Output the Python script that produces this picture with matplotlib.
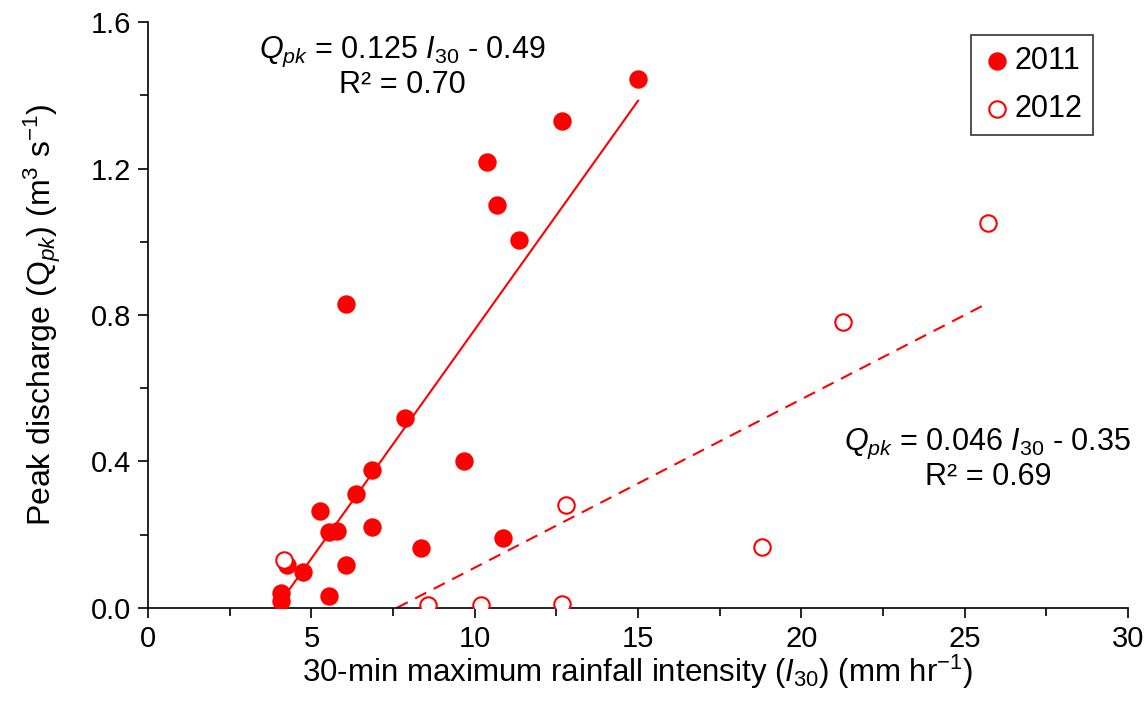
import numpy as np
import matplotlib
matplotlib.use("Agg")
import matplotlib.pyplot as plt
from matplotlib.ticker import MultipleLocator, FormatStrFormatter

plt.rcParams['font.family'] = ['Liberation Sans', 'DejaVu Sans']
plt.rcParams['mathtext.fontset'] = 'custom'
plt.rcParams['mathtext.rm'] = 'Liberation Sans'
plt.rcParams['mathtext.it'] = 'Liberation Sans:italic'
plt.rcParams['mathtext.bf'] = 'Liberation Sans:bold'

# 2011 events
i30_2011 = [15.0, 12.67, 10.38, 10.68, 11.36, 6.06, 7.87, 9.67, 6.86, 6.37, 5.26,
            5.79, 5.54, 6.86, 8.36, 10.87, 6.06, 4.25, 4.74, 5.54, 4.07, 4.07]
qpk_2011 = [1.445, 1.330, 1.218, 1.100, 1.005, 0.830, 0.519, 0.401, 0.377, 0.311, 0.265,
            0.210, 0.207, 0.221, 0.164, 0.191, 0.117, 0.117, 0.098, 0.033, 0.041, 0.019]

# 2012 events
i30_2012 = [25.71, 21.27, 12.79, 18.79, 4.16, 8.57, 10.19, 12.67]
qpk_2012 = [1.051, 0.781, 0.281, 0.167, 0.131, 0.008, 0.008, 0.011]

# trend line coefficients (as printed on the chart)
fit_2011 = (0.125, -0.49)
fit_2012 = (0.046, -0.35)

red = '#ff0000'

fig = plt.figure(figsize=(11.48, 7.10), dpi=100)
ax = fig.add_axes([0.129, 0.1437, 0.8536, 0.8253])

xs = np.array([min(i30_2011), max(i30_2011)])
ax.plot(xs, fit_2011[0] * xs + fit_2011[1], color=red, lw=1.5, zorder=2)
xs2 = np.array([-fit_2012[1] / fit_2012[0], max(i30_2012)])
ax.plot(xs2, fit_2012[0] * xs2 + fit_2012[1], color=red, lw=1.5,
        dashes=(6, 4), zorder=2)

ax.scatter(i30_2011, qpk_2011, s=150, color=red, edgecolors=red, zorder=3, label='2011')
ax.scatter(i30_2012, qpk_2012, s=140, facecolors='white', edgecolors=red,
           linewidths=1.5, zorder=3, label='2012')

ax.set_xlim(0, 30)
ax.set_ylim(0, 1.6)
ax.xaxis.set_major_locator(MultipleLocator(5))
ax.xaxis.set_minor_locator(MultipleLocator(2.5))
ax.yaxis.set_major_locator(MultipleLocator(0.4))
ax.yaxis.set_minor_locator(MultipleLocator(0.2))
ax.yaxis.set_major_formatter(FormatStrFormatter('%.1f'))
ax.tick_params(which='both', direction='out', labelsize=21, width=1.2, color='black')
ax.tick_params(which='major', length=7, pad=5)
ax.tick_params(which='minor', length=6)

for s in ['top', 'right']:
    ax.spines[s].set_visible(False)
for s in ['left', 'bottom']:
    ax.spines[s].set_linewidth(1.2)

ax.set_xlabel('30-min maximum rainfall intensity ($I_{30}$) (mm hr$^{-1}$)', fontsize=22.5, labelpad=0)
ax.set_ylabel(r'Peak discharge ($\mathrm{Q}_{pk}$) (m$^3$ s$^{-1}$)', fontsize=23, labelpad=20)

ax.text(0.259, 0.978, '$Q_{pk}$ = 0.125 $I_{30}$ - 0.49\nR² = 0.70', transform=ax.transAxes,
        ha='center', va='top', fontsize=22, linespacing=1.05, multialignment='center')
ax.text(0.857, 0.31, '$Q_{pk}$ = 0.046 $I_{30}$ - 0.35\nR² = 0.69', transform=ax.transAxes,
        ha='center', va='top', fontsize=22, linespacing=1.05, multialignment='center')

leg = ax.legend(loc='upper right', bbox_to_anchor=(0.964, 0.978), fontsize=22,
                frameon=True, fancybox=False, handletextpad=0.05, handlelength=1.0,
                borderpad=0.35, labelspacing=0.6, markerscale=1.0, borderaxespad=0)
leg.get_frame().set_edgecolor('black')
leg.get_frame().set_linewidth(1.2)

fig.savefig('out.png', dpi=100)
